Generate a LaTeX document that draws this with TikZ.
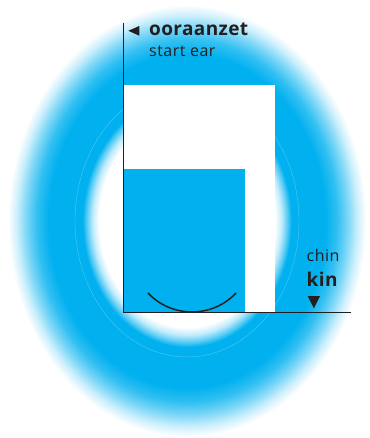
\documentclass[tikz,border=0pt]{standalone}
\usepackage{fontspec}
\setmainfont{Open Sans}
\definecolor{cyanB}{RGB}{0,176,239}
\definecolor{inkD}{RGB}{35,31,32}
\colorlet{cA}{cyanB!25!white}
\colorlet{cB}{cyanB!65!white}
\colorlet{cC}{cyanB!80!white}
\colorlet{cD}{cyanB!50!white}
\colorlet{cE}{cyanB!20!white}
\pgfdeclareradialshading{ringshade}{\pgfpoint{0bp}{0bp}}{%
  color(0bp)=(white); color(12.3bp)=(white); color(13.2bp)=(cA);
  color(14bp)=(cB); color(14.6bp)=(cyanB); color(19.3bp)=(cyanB);
  color(21bp)=(cC); color(22.5bp)=(cD); color(23.8bp)=(cE);
  color(25bp)=(white); color(50bp)=(white)}
\tikzset{
  axisline/.style={draw=inkD, line width=1.2pt},
  boldlbl/.style={inner sep=0pt, anchor=base west, text=inkD, font=\fontsize{19}{21}\selectfont\bfseries\addfontfeature{LetterSpace=2}},
  reglbl/.style={inner sep=0pt, anchor=base west, text=inkD, font=\fontsize{16}{18}\selectfont\addfontfeature{LetterSpace=3}},
  marktri/.style={fill=inkD, draw=none},
}
\begin{document}
\begin{tikzpicture}[x=1pt,y=-1pt]
\useasboundingbox (0,0) rectangle (369,438);
% blurred ring
\shade[shading=ringshade] (187,221) ellipse [x radius=179, y radius=216];
\draw[white, opacity=0.3, line width=0.4pt] (187,221) ellipse [x radius=112, y radius=136];
% rectangles
\fill[white] (123.5,85) rectangle (275,312.5);
\fill[cyanB] (123.5,169) rectangle (245,312.5);
% smile
\draw[inkD, line width=1.5pt] (148,293) .. controls (171.8,318.3) and (212.2,318.3) .. (236,293);
% axes
\coordinate (top) at (123.5,22.7);
\coordinate (O) at (123.5,312.5);
\coordinate (right) at (351,312.5);
\draw[axisline] (top) -- (O) -- (right);
% markers
\fill[marktri] (128.3,30.8) -- (139.3,26) -- (139.3,35.7) -- cycle;
\fill[marktri] (307.7,296) -- (320,296) -- (313.85,308.3) -- cycle;
% labels
\node[boldlbl] (oor) at (149,35.5) {ooraanzet};
\node[reglbl] (sta) at (149,56.7) {start ear};
\node[reglbl] (chin) at (306.5,261) {chin};
\node[boldlbl] (kin) at (306.5,286.5) {kin};
\end{tikzpicture}
\end{document}
